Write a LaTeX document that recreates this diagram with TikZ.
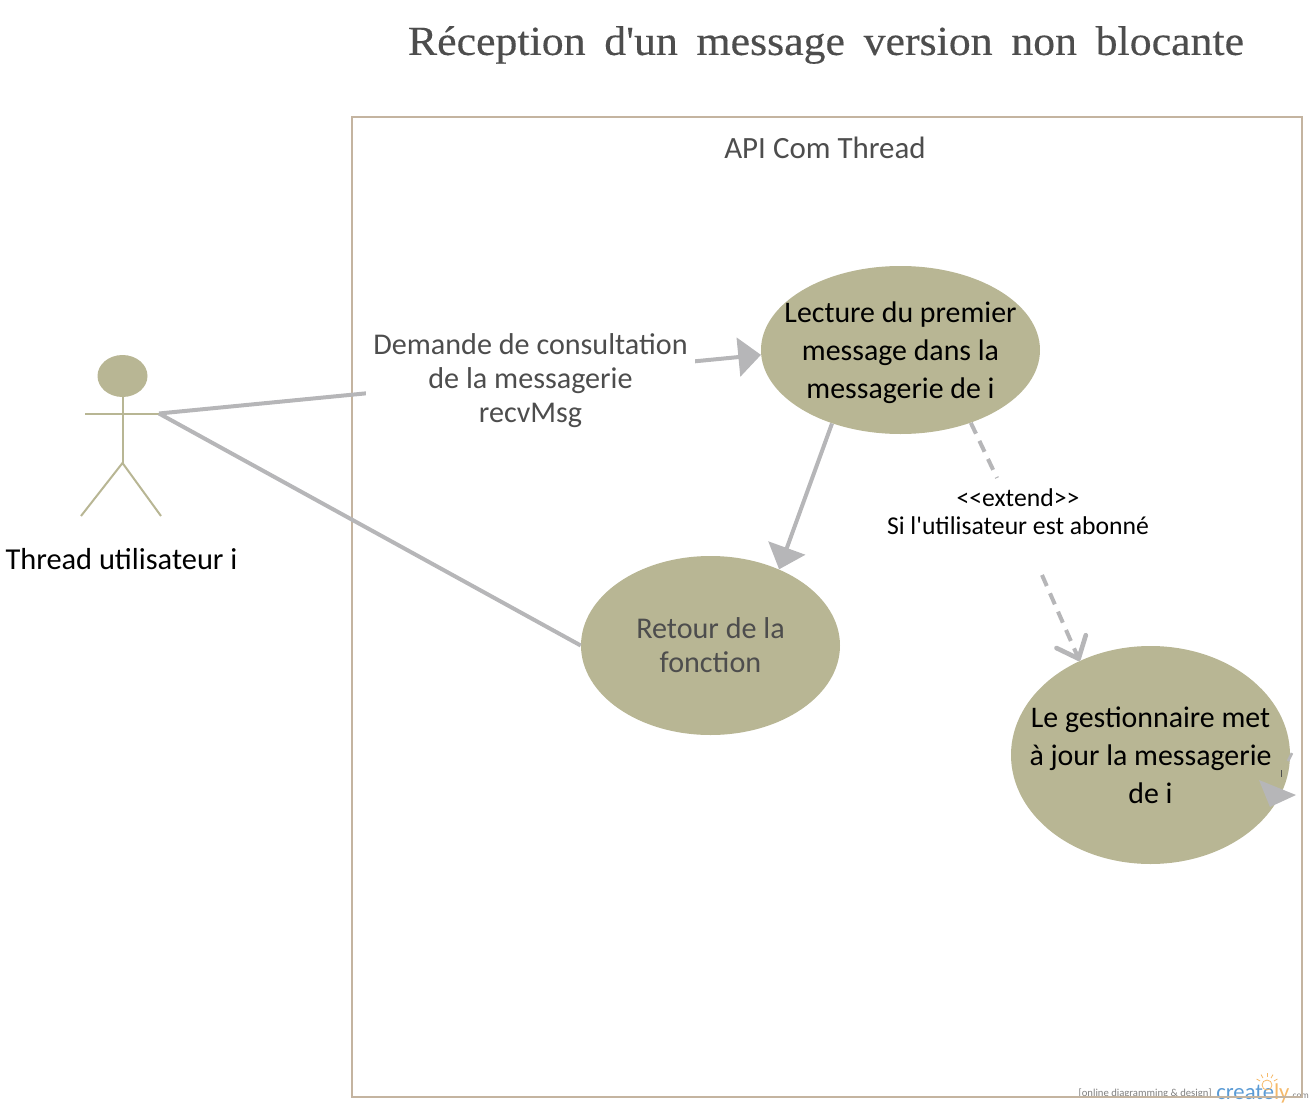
\documentclass[tikz,border=0pt]{standalone}
\usepackage{fontspec}
\setmainfont{Carlito}[Ligatures=TeXOff]
\newfontfamily\titlefont{Liberation Serif}[FakeStretch=1.06,FakeBold=0.3,Ligatures=TeXOff]
\usetikzlibrary{arrows.meta,shapes.geometric}
\definecolor{olive}{HTML}{B8B694}
\definecolor{tan}{HTML}{C4B4A0}
\definecolor{conn}{HTML}{B6B6B8}
\definecolor{ink}{HTML}{4D4D4D}
\definecolor{wmblue}{HTML}{5B9BD5}
\definecolor{wmorange}{HTML}{F5B969}
\tikzset{
  px/.style={x=0.75pt,y=-0.75pt},
  usecase/.style={ellipse,fill=olive,draw=none,inner sep=0pt},
  casetext/.style={align=center,text=black,font=\fontsize{22.4}{28.5}\selectfont},
  greytext/.style={align=center,text=ink,font=\fontsize{22.6}{25.5}\selectfont},
  connector/.style={draw=conn,line width=3pt},
  solidtip/.style={-{Triangle[length=17pt,width=29pt,fill=conn]}},
  dashline/.style={connector,dash pattern=on 9pt off 6pt},
  stick/.style={draw=olive,line width=1.5pt},
}
\begin{document}
\begin{tikzpicture}[px]
\useasboundingbox (0,0) rectangle (1315,1110);
% watermark
\node[anchor=east,text=gray,font=\fontsize{8}{9}\selectfont,inner sep=0pt] (wm1) at (1212,1094) {[online diagramming \& design]};
\node[anchor=west,text=wmblue,font=\fontsize{17}{20}\selectfont,inner sep=0pt] (wm2) at (1216,1093) {create\textcolor{wmorange}{ly}};
\node[anchor=west,text=gray,font=\fontsize{7}{8}\selectfont,inner sep=0pt] (wm3) at (1290,1096) {.com};
\draw[wmorange,line width=0.6pt] (1267,1085) circle [radius=5];
\foreach \a in {-150,-120,-90,-60,-30}
  \draw[wmorange,line width=0.6pt] (1267,1085) ++(\a:8) -- ++(\a:4);
% system boundary
\node[draw=tan,line width=1.5pt,minimum width=712.5pt,minimum height=735pt,inner sep=0pt,anchor=north west] (sys) at (351,116) {};
\node[text=ink,font=\fontsize{23.2}{25}\selectfont] (systitle) at (825,148) {API Com Thread};
% title
\node[text=ink,font=\titlefont\fontsize{31}{34}\selectfont] (title) at (826,45) {Réception\hspace{14pt}d'un\hspace{14pt}message\hspace{14pt}version\hspace{14pt}non\hspace{14pt}blocante};
% actor
\node[usecase,minimum width=37.5pt,minimum height=31.5pt] (head) at (122.5,376) {};
\coordinate (hip) at (122.5,463);
\coordinate (handL) at (85,413.5);
\coordinate (handR) at (159,413.5);
\coordinate (footL) at (81,516);
\coordinate (footR) at (161,516);
\draw[stick] (head.south) -- (hip);
\draw[stick] (handL) -- (handR);
\draw[stick] (footL) -- (hip) -- (footR);
\node[text=black,font=\fontsize{22.8}{25}\selectfont] (actor) at (121.5,559) {Thread utilisateur i};
% use cases
\node[usecase,minimum width=209.25pt,minimum height=126pt,label={[casetext,yshift=-2pt]center:Lecture du premier\\message dans la\\messagerie de i}] (read) at (900.5,350) {};
\node[usecase,minimum width=194.25pt,minimum height=134.25pt,label={[greytext]center:Retour de la\\fonction}] (ret) at (710.5,645.5) {};
\node[usecase,minimum width=209.25pt,minimum height=163.5pt,label={[casetext]center:Le gestionnaire met\\à jour la messagerie\\de i}] (upd) at (1150.5,755) {};
% connectors
\draw[connector,solidtip] (handR) -- (read.182);
\node[fill=white,inner sep=0pt,minimum width=247pt,minimum height=90pt,greytext] (msg) at (530.5,381) {Demande de consultation\\de la messagerie\\recvMsg};
\draw[connector,solidtip] (read.227) -- (ret.48);
\draw[connector] (handR) -- (ret.west);
\coordinate (extA) at (997,478);
\coordinate (extB) at (1042,575);
\draw[dashline] (read.-46.6) -- (extA);
\draw[dashline,-{Straight Barb[length=14pt,width=24pt,line width=3.5pt,round]}] (extB) -- (upd.127);
\node[text=black,align=center,font=\fontsize{19.25}{21}\selectfont] (ext) at (1018,512) {<<extend>>\\Si l'utilisateur est abonné};
% self loop remnant
\coordinate (loopA) at (1292,753);
\coordinate (loopB) at (1288,761);
\coordinate (loopC) at (1296,795);
\coordinate (loopD) at (1259,780);
\coordinate (loopE) at (1270,807);
\draw[conn,line width=2pt] (loopA) -- (loopB);
\draw[ink,line width=0.6pt] (1281,770) -- (1281,777);
\fill[conn] (loopC) -- (loopD) -- (loopE) -- cycle;
\end{tikzpicture}
\end{document}
